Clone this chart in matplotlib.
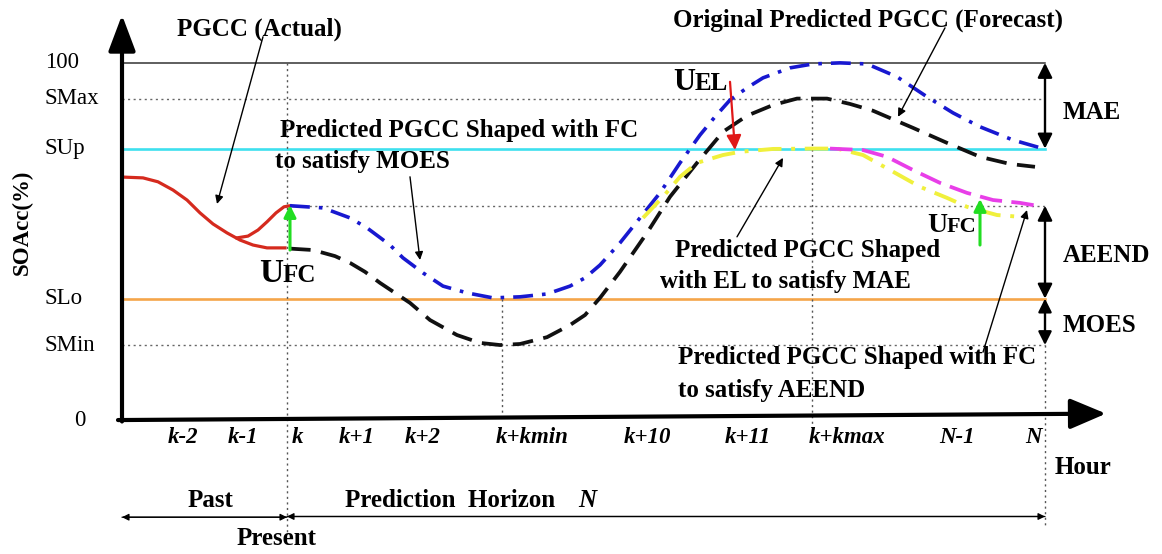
import matplotlib.pyplot as plt

plt.rcParams["font.family"] = ["Liberation Serif", "DejaVu Serif"]

# SOAcc levels (%)
S_FULL = 100
S_MAX = 90
S_UP = 76
S_LO = 34
S_MIN = 21
S_AEEND = 60

# positions on the hour axis
T_K = 16.5
T_KMIN = 38.0
T_KMAX = 69.0
T_N = 92.3

XTICK_LABELS = ["k-2", "k-1", "k", "k+1", "k+2", "k+kmin", "k+10", "k+11", "k+kmax", "N-1", "N"]
XTICK_POS = [6.1, 12.1, 17.5, 23.5, 30.1, 41.0, 52.5, 62.6, 72.5, 83.5, 91.1]

YTICK_LABELS = ["100", "SMax", "SUp", "SLo", "SMin", "0"]
YTICK_VALUES = [S_FULL, S_MAX, S_UP, S_LO, S_MIN, 0]

# actual PGCC (past hours), two branches
RED_T = [0.3, 2.1, 3.6, 5.1, 6.5, 7.8, 9.1, 10.5, 11.8, 13.1, 14.5, 16.3]
RED_V = [68, 67.8, 66.7, 64.4, 61.6, 58, 54.9, 52.4, 50.4, 49, 48.2, 48.2]
RED_UP_T = [11.5, 12.6, 13.6, 14.5, 15.4, 16.2, 16.8]
RED_UP_V = [51.0, 51.5, 53.2, 55.5, 58.0, 59.7, 60.0]

# predicted PGCC shaped with FC (MOES)
BLUE_T = [16.8, 20.1, 22.8, 24.5, 26.8, 28.1, 30.1, 32.1, 34.5, 37.1, 39.8, 42.5,
          44.8, 46.3, 47.8, 49.8, 51.8, 53.8, 55.8, 57.8, 59.3, 60.8, 62.5, 64.1,
          66.8, 69.1, 71.8, 74.5, 77.5, 80.5, 83.1, 85.8, 89.1, 92.1]
BLUE_V = [60, 59.4, 56.6, 53.8, 49.0, 45.4, 41.2, 37.5, 35.6, 34.2, 34.5, 35.3,
          37.5, 39.8, 43.4, 49.6, 56.6, 63.6, 72.0, 79.8, 84.9, 89.6, 93.0, 95.8,
          98.6, 99.7, 100, 99.7, 96.1, 90.5, 86.0, 82.1, 78.4, 76]

# original predicted PGCC (forecast)
BLACK_T = [16.8, 19.1, 21.3, 22.8, 24.3, 25.8, 27.3, 28.8, 30.8, 33.5, 35.8, 37.8,
           39.8, 42.5, 44.8, 46.3, 47.8, 49.8, 52.5, 54.8, 57.5, 60.1, 62.5, 65.1,
           67.5, 70.5, 72.8, 75.1, 79.1, 82.5, 85.8, 88.8, 91.3]
BLACK_V = [48, 47.6, 45.9, 44.0, 41.5, 38.4, 35.6, 32.8, 28.0, 23.8, 21.6, 21,
           21.3, 23.2, 26.6, 29.4, 34.2, 41.5, 52.4, 62.5, 72.0, 80.7, 85.2, 88.2,
           90, 90, 88.5, 86.6, 81.8, 77.6, 73.7, 71.7, 70.9]

# shaped with EL (MAE)
YELLOW_T = [52.1, 54.1, 55.8, 57.5, 60.1, 61.8, 65.1, 69.1, 71.5, 74.1, 76.8,
            79.8, 82.5, 84.5, 87.5, 89.8]
YELLOW_V = [56.6, 62.5, 68.1, 72.0, 74.2, 75.1, 75.9, 76, 76, 74.2, 70.0,
            65.3, 62.2, 59.7, 57.4, 56.9]

# shaped with FC (AEEND)
MAGENTA_T = [70.8, 74.1, 76.5, 79.1, 81.8, 84.5, 87.1, 89.8, 91.5]
MAGENTA_V = [76, 75.6, 73.7, 70.0, 66.4, 63.6, 61.6, 60.8, 60]

BOLD = dict(fontweight="bold", fontsize=18)
DOT = (0, (1.5, 2.5))

fig = plt.figure(figsize=(11.62, 5.54), dpi=100)
ax = fig.add_axes([0, 0, 1, 1])
ax.set_xlim(-12.2, 104.0)
ax.set_ylim(-37.5, 117.6)
ax.axis("off")


def arrow(p0, p1, style="-|>", lw=1.0, color="black", ms=12):
    ax.annotate("", xy=p1, xytext=p0,
                arrowprops=dict(arrowstyle=style, lw=lw, color=color,
                                shrinkA=0, shrinkB=0, mutation_scale=ms))


# reference levels
ax.plot([0, T_N], [S_FULL, S_FULL], color="#333333", lw=1.1)
ax.plot([0, T_N], [S_MAX, S_MAX], color="#666666", lw=1, ls=DOT)
ax.plot([T_K, T_N], [S_AEEND, S_AEEND], color="#666666", lw=1, ls=DOT)
ax.plot([0, T_N], [S_MIN, S_MIN], color="#666666", lw=1, ls=DOT)
ax.plot([0, T_N], [S_UP, S_UP], color="#3ee0ee", lw=1.9)
ax.plot([0, T_N], [S_LO, S_LO], color="#f5a54a", lw=1.9)

# vertical markers
ax.plot([T_K, T_K], [S_FULL, -31.4], color="#555555", lw=1, ls=DOT)
ax.plot([T_KMIN, T_KMIN], [S_LO, 0], color="#555555", lw=1, ls=DOT)
ax.plot([T_KMAX, T_KMAX], [S_MAX, -3.4], color="#555555", lw=1, ls=DOT)
ax.plot([T_N, T_N], [S_MIN, -30], color="#555555", lw=1, ls=DOT)

# curves
ax.plot(RED_T, RED_V, color="#d52a1e", lw=2.3)
ax.plot(RED_UP_T, RED_UP_V, color="#d52a1e", lw=2.3)
ax.plot(BLACK_T, BLACK_V, color="#111111", lw=2.7, dashes=(5.5, 2.8))
ax.plot(BLUE_T, BLUE_V, color="#1818d0", lw=2.6, dashes=(5.5, 2.5, 1, 2.5))
ax.plot(YELLOW_T, YELLOW_V, color="#f0f03c", lw=2.8, dashes=(6, 2.5, 1, 2.5))
ax.plot(MAGENTA_T, MAGENTA_V, color="#e83ee8", lw=2.7, dashes=(6, 2.5))

# control actions
arrow((60.8, 94.7), (61.3, 75.6), lw=1.6, color="#e01818", ms=22)
arrow((T_K + 0.3, 47.6), (T_K + 0.3, 60.2), lw=2.2, color="#22dd22", ms=18)
arrow((85.8, 49.0), (85.8, 61.9), lw=2.2, color="#22dd22", ms=18)

# axes
arrow((0, -0.4), (0, 113.4), lw=3, ms=26, style="-|>,head_length=0.85,head_width=0.32")
arrow((-0.4, 0), (98.4, 1.8), lw=3, ms=26, style="-|>,head_length=0.85,head_width=0.36")

# range arrows on the right
arrow((T_N, S_FULL), (T_N, S_UP), style="<|-|>", lw=1.7, ms=22)
arrow((T_N, S_AEEND), (T_N, S_LO), style="<|-|>", lw=1.7, ms=22)
arrow((T_N, S_LO), (T_N, S_MIN), style="<|-|>", lw=1.7, ms=20)
ax.text(94.1, 86.0, "MAE", va="center", ha="left", **BOLD)
ax.text(94.1, 46.2, "AEEND", va="center", ha="left", **BOLD)
ax.text(94.1, 26.6, "MOES", va="center", ha="left", **BOLD)

# time spans
arrow((T_K, -27.2), (0, -27.2), lw=0.9, ms=10)
arrow((0, -27.2), (T_K, -27.2), lw=0.9, ms=10)
arrow((T_N, -27.0), (T_K, -27.0), lw=0.9, ms=10)
arrow((T_K, -27.0), (T_N, -27.0), lw=0.9, ms=10)
ax.text(8.9, -22.4, "Past", ha="center", va="center", **BOLD)
ax.text(22.3, -22.4, "Prediction  Horizon", ha="left", va="center", **BOLD)
ax.text(45.6, -22.4, "N", ha="left", va="center", style="italic", **BOLD)
ax.text(15.5, -33.1, "Present", ha="center", va="center", **BOLD)
ax.text(96.1, -13.2, "Hour", ha="center", va="center", **BOLD)

# tick labels
for pos, lab in zip(XTICK_POS, XTICK_LABELS):
    ax.text(pos, -4.8, lab, ha="center", va="center", fontsize=16.5,
            fontweight="bold", style="italic")
for val, lab in zip(YTICK_VALUES, YTICK_LABELS):
    ax.text(-7.7 if lab != "0" else -4.2, val, lab, ha="left" if lab != "0" else "center",
            va="center", fontsize=16.5)
ax.text(-10.0, 55.5, "SOAcc(%)", rotation=90, ha="center", va="center",
        fontsize=16.5, fontweight="bold")

# curve annotations
ax.text(13.7, 109.5, "PGCC (Actual)", ha="center", va="center", **BOLD)
arrow((14.1, 107.3), (9.5, 60.5))
ax.text(55.1, 112.0, "Original Predicted PGCC (Forecast)", ha="left", va="center", **BOLD)
arrow((82.3, 109.8), (77.6, 84.9))
ax.text(15.8, 81.2, "Predicted PGCC Shaped with FC", ha="left", va="center", **BOLD)
ax.text(15.3, 72.3, "to satisfy MOES", ha="left", va="center", **BOLD)
arrow((28.8, 68.1), (29.8, 44.8))
ax.text(55.3, 47.6, "Predicted PGCC Shaped", ha="left", va="center", **BOLD)
ax.text(53.8, 38.7, "with EL to satisfy MAE", ha="left", va="center", **BOLD)
arrow((61.5, 51.3), (66.1, 73.4))
ax.text(55.6, 17.4, "Predicted PGCC Shaped with FC", ha="left", va="center", **BOLD)
ax.text(55.6, 8.4, "to satisfy AEEND", ha="left", va="center", **BOLD)
arrow((86.1, 19.0), (90.5, 58.8))

# control labels
ax.text(16.1, 38.7, "U", ha="right", va="baseline", fontsize=24, fontweight="bold")
ax.text(16.1, 38.7, "FC", ha="left", va="baseline", fontsize=18, fontweight="bold")
ax.text(82.5, 52.7, "U", ha="right", va="baseline", fontsize=20, fontweight="bold")
ax.text(82.5, 52.7, "FC", ha="left", va="baseline", fontsize=16, fontweight="bold")
ax.text(57.3, 92.4, "U", ha="right", va="baseline", fontsize=22, fontweight="bold")
ax.text(57.3, 92.4, "EL", ha="left", va="baseline", fontsize=18, fontweight="bold")

fig.savefig("out.png", dpi=100)
